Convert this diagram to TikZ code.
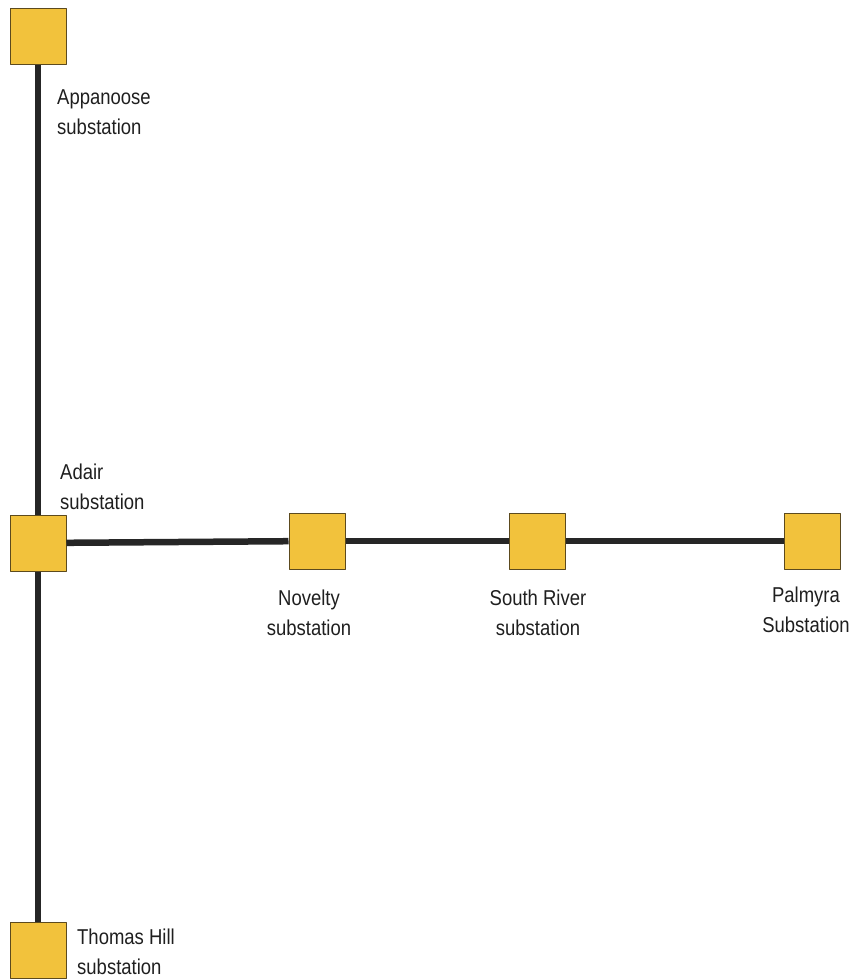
\documentclass[tikz,border=0pt]{standalone}
\usepackage{fontspec}
\setmainfont{Liberation Sans}[FakeStretch=0.86]
\usepackage{xcolor}
\definecolor{subyellow}{HTML}{F2C23C}
\definecolor{subedge}{HTML}{5C4A1E}
\definecolor{wiregray}{HTML}{262626}
\tikzset{
  every picture/.style={line join=round},
  substation/.style={draw=subedge, line width=1pt, fill=subyellow, minimum size=56pt, inner sep=0pt},
  wire/.style={draw=wiregray, line width=6.5pt},
  lbl/.style={font=\fontsize{21.5}{30}\selectfont, inner sep=0pt, text=black!88},
}
\begin{document}
\begin{tikzpicture}[x=1pt,y=-1pt]
\useasboundingbox (0,0) rectangle (860,980);
% substations
\node[substation](appanoose) at (38,36) {};
\node[substation](adair) at (38,543) {};
\node[substation](novelty) at (317,541) {};
\node[substation](southriver) at (537,541) {};
\node[substation](palmyra) at (812,541) {};
\node[substation](thomashill) at (38,950) {};
% lines
\draw[wire](appanoose)--(adair);
\draw[wire](adair)--(thomashill);
\draw[wire](adair)--(novelty);
\draw[wire](novelty)--(southriver);
\draw[wire](southriver)--(palmyra);
% labels
\node[lbl,anchor=north west,align=left](appanooselbl) at (57,90) {Appanoose\\substation};
\node[lbl,anchor=north west,align=left](adairlbl) at (60,464) {Adair\\substation};
\node[lbl,anchor=north,align=center](noveltylbl) at (309,590) {Novelty\\substation};
\node[lbl,anchor=north,align=center](southriverlbl) at (538,590) {South River\\substation};
\node[lbl,anchor=north,align=center](palmyralbl) at (806,587) {Palmyra\\Substation};
\node[lbl,anchor=north west,align=left](thomashilllbl) at (77,929) {Thomas Hill\\substation};
\end{tikzpicture}
\end{document}
